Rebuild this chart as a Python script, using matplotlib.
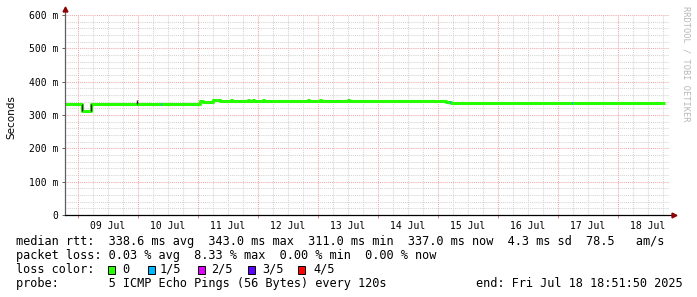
import numpy as np
import matplotlib
matplotlib.use("Agg")
import matplotlib.pyplot as plt
from matplotlib.patches import Rectangle

# median rtt (ms), step segments; hours since 08 Jul 18:51:50
seg_start_h = [0.0, 6.8, 10.4, 54.0, 55.2, 58.0, 59.2, 62.0,
               66.4, 66.8, 73.2, 73.6, 75.2, 75.6, 79.2, 79.6,
               97.2, 97.6, 102.0, 102.4, 113.2, 113.6, 116.0,
               152.4, 154.0, 154.4, 240.0]
seg_rtt_ms = [334, 311, 334, 341, 338, 340, 344, 341,
              344, 341, 344, 341, 344, 341, 344, 341,
              344, 341, 344, 341, 344, 341, 343,
              340, 338, 337, 337]

# samples with 1/5 packet loss
loss_h = [38.4, 154.0, 202.8]
loss_rtt = [334, 338, 337]

# smoke (spread of the pings) where it shows out of the median line
smoke_h = [6.8, 10.4, 28.8]
smoke_lo = [311, 311, 334]
smoke_hi = [334, 334, 345]

loss_labels = ["0", "1/5", "2/5", "3/5", "4/5"]
loss_colors = ["#26ff00", "#00b8ff", "#dd00ff", "#5e00ff", "#ff0000"]

y_labels = ["0", "100 m", "200 m", "300 m", "400 m", "500 m", "600 m"]
day_labels = ["09 Jul", "10 Jul", "11 Jul", "12 Jul", "13 Jul",
              "14 Jul", "15 Jul", "16 Jul", "17 Jul", "18 Jul"]
first_midnight_h = 5 + 8 / 60 + 10 / 3600

W, H = 697, 297
fig = plt.figure(figsize=(W / 100, H / 100), dpi=100)
ax = fig.add_axes([65 / W, 1 - 215 / H, 604 / W, 200 / H])
mono = "DejaVu Sans Mono"

ax.set_xlim(0, 241.6)
ax.set_ylim(0, 600)
for s in ax.spines.values():
    s.set_visible(False)

# grid
dot = (0, (1, 1))
for y in np.arange(20, 601, 20):
    major = y % 100 == 0
    ax.axhline(y, color="#f0a8a8" if major else "#d4d4d4", lw=0.75, ls=dot, zorder=1)
for i in range(-1, 41):
    x = first_midnight_h + 6 * i
    if 0 < x < 241.6:
        ax.axvline(x, color="#f0a8a8" if i % 4 == 0 else "#d4d4d4", lw=0.75, ls=dot, zorder=1)

# median line
ax.step(seg_start_h, seg_rtt_ms, where="post", color=loss_colors[0], lw=2.2,
        solid_capstyle="butt", zorder=3)
ax.vlines(smoke_h, smoke_lo, smoke_hi, color="#202020", lw=1.0, zorder=4)
ax.vlines(loss_h, np.array(loss_rtt) - 3, np.array(loss_rtt) + 3,
          color=loss_colors[1], lw=1.0, zorder=4)

# axes with arrows
ax.plot([0, 0], [0, 1.03], transform=ax.transAxes, color="#606060", lw=0.9,
        clip_on=False, zorder=5)
ax.plot([0, 1.008], [0, 0], transform=ax.transAxes, color="black", lw=0.9,
        clip_on=False, zorder=5)
ax.plot([0], [1.03], marker="^", ms=3.5, color="#900000", transform=ax.transAxes,
        clip_on=False, zorder=6)
ax.plot([1.008], [0], marker=">", ms=3.5, color="#900000", transform=ax.transAxes,
        clip_on=False, zorder=6)

# ticks
ax.set_yticks(np.arange(0, 601, 100))
ax.set_yticklabels(y_labels, fontfamily=mono, fontsize=7)
ax.tick_params(axis="y", length=2.5, width=0.7, color="#606060", pad=2.5)
midnights = [first_midnight_h + 24 * k for k in range(len(day_labels))]
noons = [m + 12 for m in midnights]
ax.set_xticks(midnights)
ax.set_xticklabels([""] * len(midnights))
ax.tick_params(axis="x", which="major", length=2, width=0.7, color="#e08080")
ax.set_xticks(noons, minor=True)
ax.set_xticklabels(day_labels, minor=True, fontfamily=mono, fontsize=7)
ax.tick_params(axis="x", which="minor", length=0, pad=4)

fig.text(11 / W, 1 - 117 / H, "Seconds", rotation=90, ha="center", va="center",
         fontsize=7.5, fontfamily="DejaVu Sans")
fig.text(686 / W, 1 - 6 / H, "RRDTOOL / TOBI OETIKER", rotation=270, ha="center",
         va="top", fontsize=6.2, fontfamily=mono, color="#b8b8b8")

# legend
fs = 8.55
rows_y = [241.5, 255.5, 269.5, 283.5]
fig.text(16 / W, 1 - rows_y[0] / H,
         "median rtt:  338.6 ms avg  343.0 ms max  311.0 ms min  337.0 ms now  4.3 ms sd  78.5   am/s",
         fontfamily=mono, fontsize=fs, va="center")
fig.text(16 / W, 1 - rows_y[1] / H,
         "packet loss: 0.03 % avg  8.33 % max  0.00 % min  0.00 % now",
         fontfamily=mono, fontsize=fs, va="center")
fig.text(16 / W, 1 - rows_y[2] / H, "loss color:", fontfamily=mono, fontsize=fs, va="center")
box_x = [108, 148, 198, 248, 298]
lab_x = [122, 160, 211, 262, 313]
for bx, lx, lab, col in zip(box_x, lab_x, loss_labels, loss_colors):
    fig.patches.append(Rectangle((bx / W, 1 - (rows_y[2] + 4) / H), 7 / W, 8 / H,
                                 transform=fig.transFigure, facecolor=col,
                                 edgecolor="black", lw=0.7))
    fig.text(lx / W, 1 - rows_y[2] / H, lab, fontfamily=mono, fontsize=fs, va="center")
fig.text(16 / W, 1 - rows_y[3] / H,
         "probe:       5 ICMP Echo Pings (56 Bytes) every 120s",
         fontfamily=mono, fontsize=fs, va="center")
fig.text(683 / W, 1 - rows_y[3] / H, "end: Fri Jul 18 18:51:50 2025",
         fontfamily=mono, fontsize=fs, va="center", ha="right")

fig.savefig("out.png", dpi=100)
